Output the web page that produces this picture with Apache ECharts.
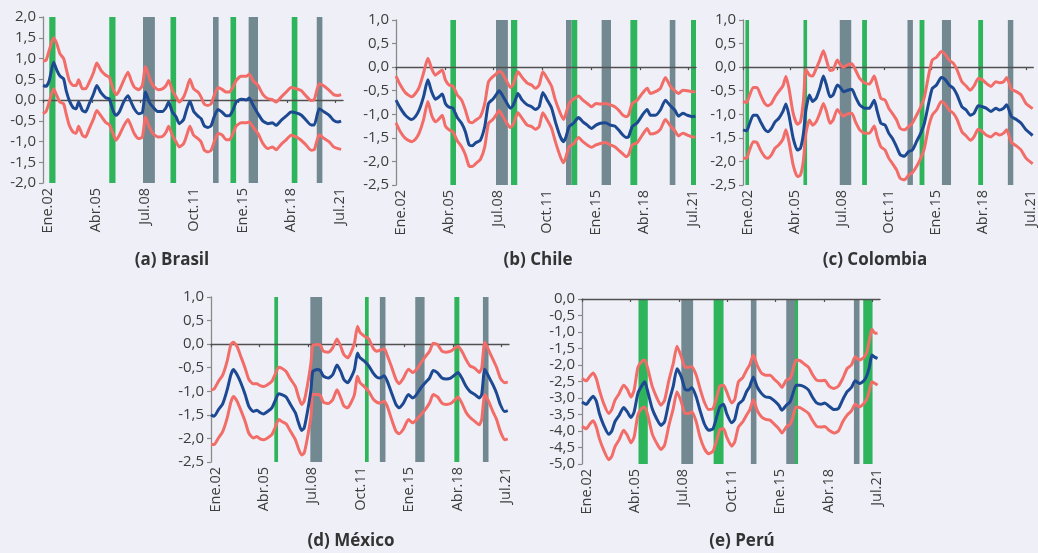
<!DOCTYPE html>
<html><head><meta charset="utf-8">
<script src="https://cdn.jsdelivr.net/npm/echarts@6/dist/echarts.min.js"></script>
<style>html,body{margin:0;padding:0;background:#efeff7;}#c{width:1038px;height:553px;}</style>
</head><body><div id="c"></div>
<script>
// x positions are month indices counted from Ene.02 (Jan 2002 = 0)
const tickMonths = [0, 39, 78, 117, 156, 195, 234];
const tickLabels = ['Ene.02', 'Abr.05', 'Jul.08', 'Oct.11', 'Ene.15', 'Abr.18', 'Jul.21'];
const titles = ['(a) Brasil', '(b) Chile', '(c) Colombia', '(d) México', '(e) Perú'];

// grey bands (common episodes) and green bands (elections), month index ranges
const crisisPeriods = [[80, 89.5], [136, 140.5], [164.5, 172], [219, 223.5]];
const brasilElections = [[5, 10], [53, 58], [102, 106.5], [150, 154.5], [199, 203.5]];
const chileElections = [[43.5, 48], [92, 97], [140.5, 145], [187.5, 193], [236, 240]];
const colombiaElections = [[2, 5], [50, 53], [98.5, 102.5], [146, 150], [194.5, 198.5]];
const mexicoElections = [[51, 54], [124, 127], [196, 200]];
const peruElections = [[45.5, 53], [106, 114], [171.5, 174], [226.5, 234]];

// Brasil
const brasilMonths = [0,2.5,5,8.5,11,13.5,16.5,18.5,21,24,26.5,28.5,31.5,34,37,40.5,43,46.5,50.5,53,56,58.5,61,64.5,68,70.5,73,76.5,79.5,82,85,88,92,95.5,98.5,100.5,103.5,106.5,109,112.5,115,117.5,120.5,124,126.5,129,132,134.5,137,140,143.5,146.5,149,152,154.5,158.5,162.5,165,168,172,176,180,183.5,186.5,190.5,194.5,198.5,202.5,206.5,210,214.5,217,221,225,229,232.5,236,238.5];
const brasilMid = [0.35,0.33,0.47,0.91,0.72,0.58,0.51,0.23,-0.01,-0.18,-0.21,-0.05,-0.25,-0.29,-0.09,0.15,0.35,0.17,0.05,0.03,-0.25,-0.37,-0.29,-0.05,0.10,-0.05,-0.21,-0.33,-0.30,0.19,-0.05,-0.17,-0.28,-0.28,-0.18,-0.05,-0.29,-0.41,-0.57,-0.47,-0.22,-0.03,-0.27,-0.39,-0.45,-0.62,-0.66,-0.62,-0.40,-0.23,-0.30,-0.38,-0.38,-0.24,-0.05,0.02,0.0,0.05,-0.12,-0.33,-0.51,-0.57,-0.55,-0.61,-0.49,-0.39,-0.29,-0.31,-0.36,-0.47,-0.60,-0.60,-0.21,-0.29,-0.37,-0.49,-0.53,-0.51];
const brasilUp = [0.94,0.96,1.20,1.50,1.36,1.12,1.0,0.76,0.47,0.35,0.35,0.49,0.27,0.27,0.43,0.67,0.89,0.71,0.59,0.55,0.27,0.13,0.23,0.47,0.67,0.47,0.31,0.25,0.35,0.81,0.55,0.35,0.25,0.27,0.35,0.47,0.23,0.07,-0.05,0.07,0.27,0.50,0.27,0.19,0.07,-0.10,-0.13,-0.09,0.11,0.30,0.25,0.19,0.19,0.31,0.47,0.57,0.57,0.62,0.47,0.35,0.13,0.03,0.01,-0.05,0.07,0.19,0.30,0.27,0.23,0.11,-0.01,0.01,0.39,0.33,0.23,0.13,0.11,0.13];
const brasilLow = [-0.33,-0.27,-0.05,0.27,0.11,-0.05,-0.09,-0.33,-0.61,-0.77,-0.80,-0.63,-0.85,-0.89,-0.69,-0.45,-0.25,-0.39,-0.55,-0.59,-0.81,-0.97,-0.85,-0.63,-0.47,-0.63,-0.81,-0.93,-0.89,-0.41,-0.65,-0.81,-0.89,-0.88,-0.77,-0.63,-0.85,-1.01,-1.13,-1.05,-0.85,-0.63,-0.85,-0.93,-1.01,-1.21,-1.25,-1.21,-1.01,-0.81,-0.85,-0.96,-0.96,-0.81,-0.63,-0.55,-0.55,-0.53,-0.65,-0.81,-1.05,-1.17,-1.13,-1.2,-1.07,-0.96,-0.85,-0.89,-0.97,-1.07,-1.21,-1.2,-0.84,-0.93,-1.01,-1.13,-1.17,-1.19];

// Chile
const chileMonths = [0,3.5,7.5,12.5,15.5,18.5,22,25.5,28.5,31.5,34,37,39.5,42.5,45.5,49,52.5,55.5,58.5,61,64,67.5,71,74,77.5,80,82.5,85,88,91.5,93.5,96,97.5,101,105,108.5,111.5,114.5,117.5,121,124.5,127.5,131.5,134,136,138.5,142,146,149.5,153,156.5,160,163.5,167.5,171.5,175,178,181.5,184,186,189,193,197,201,203.5,207.5,211.5,215.5,219.5,223,226,229.5,233,237,239.5];
const chileMid = [-0.70,-0.87,-1.02,-1.11,-1.05,-0.91,-0.63,-0.27,-0.52,-0.68,-0.64,-0.57,-0.77,-0.85,-0.87,-1.07,-1.19,-1.37,-1.65,-1.67,-1.60,-1.55,-1.26,-0.77,-0.68,-0.59,-0.50,-0.59,-0.73,-0.87,-0.82,-0.66,-0.56,-0.70,-0.80,-0.84,-0.90,-0.84,-0.54,-0.70,-0.87,-1.16,-1.48,-1.58,-1.48,-1.26,-1.19,-1.07,-1.16,-1.23,-1.30,-1.23,-1.19,-1.18,-1.23,-1.25,-1.33,-1.44,-1.49,-1.48,-1.26,-1.18,-1.02,-0.90,-1.02,-1.02,-0.91,-0.70,-0.82,-0.91,-1.04,-0.98,-1.02,-1.05,-1.04];
const chileUp = [-0.19,-0.38,-0.54,-0.63,-0.56,-0.43,-0.13,0.19,-0.03,-0.17,-0.12,-0.06,-0.27,-0.38,-0.40,-0.59,-0.70,-0.91,-1.16,-1.18,-1.12,-1.05,-0.77,-0.31,-0.20,-0.15,-0.08,-0.13,-0.27,-0.43,-0.38,-0.19,-0.10,-0.22,-0.34,-0.38,-0.45,-0.38,-0.10,-0.24,-0.41,-0.70,-0.98,-1.11,-0.98,-0.77,-0.68,-0.61,-0.70,-0.77,-0.84,-0.77,-0.78,-0.77,-0.80,-0.84,-0.91,-1.02,-1.05,-1.02,-0.77,-0.70,-0.56,-0.45,-0.56,-0.52,-0.45,-0.22,-0.41,-0.50,-0.56,-0.49,-0.50,-0.52,-0.52];
const chileLow = [-1.18,-1.37,-1.51,-1.58,-1.53,-1.40,-1.12,-0.73,-1.02,-1.16,-1.11,-1.02,-1.25,-1.33,-1.37,-1.56,-1.69,-1.86,-2.10,-2.11,-2.04,-1.96,-1.69,-1.19,-1.11,-1.02,-0.92,-1.02,-1.16,-1.28,-1.23,-1.05,-0.97,-1.09,-1.23,-1.26,-1.32,-1.26,-0.97,-1.12,-1.30,-1.58,-1.90,-2.03,-1.90,-1.69,-1.63,-1.49,-1.58,-1.65,-1.70,-1.65,-1.62,-1.60,-1.65,-1.69,-1.76,-1.84,-1.90,-1.86,-1.65,-1.60,-1.44,-1.30,-1.42,-1.40,-1.32,-1.11,-1.25,-1.35,-1.46,-1.40,-1.44,-1.48,-1.48];

// Colombia
const colombiaMonths = [0,3,5,8.5,11.5,14.5,18,20.5,23.5,26.5,29.5,33,35.5,38,41.5,45,47.5,50,52,55,57.5,60.5,63.5,66.5,69,72,74.5,78,80.5,83,86.5,90,93,96.5,100.5,104.5,108.5,111,114,117.5,120.5,123.5,127,130,133.5,137,140,143.5,147,150,153.5,156.5,160,164,167,170.5,174,177,181,184.5,188,191,194.5,198,201,205,209,212,215.5,218,222,226,230,234,239.5];
const colombiaMid = [-1.33,-1.35,-1.23,-1.02,-1.02,-1.16,-1.32,-1.37,-1.30,-1.16,-1.09,-0.94,-0.78,-1.02,-1.51,-1.76,-1.72,-1.40,-0.91,-0.59,-0.73,-0.66,-0.45,-0.19,-0.38,-0.63,-0.59,-0.38,-0.43,-0.52,-0.49,-0.47,-0.63,-0.80,-0.87,-0.87,-0.70,-0.94,-1.19,-1.23,-1.40,-1.51,-1.69,-1.86,-1.89,-1.79,-1.76,-1.58,-1.40,-1.19,-0.77,-0.45,-0.38,-0.22,-0.26,-0.38,-0.45,-0.59,-0.84,-0.91,-1.02,-0.98,-0.82,-0.84,-0.87,-0.94,-0.87,-0.91,-0.87,-0.80,-1.05,-1.11,-1.19,-1.33,-1.45];
const colombiaUp = [-0.73,-0.75,-0.63,-0.43,-0.43,-0.59,-0.77,-0.82,-0.77,-0.63,-0.52,-0.40,-0.20,-0.45,-0.98,-1.21,-1.16,-0.70,-0.05,-0.17,-0.19,-0.03,0.15,0.35,0.15,-0.07,-0.06,0.15,0.05,0.00,0.05,0.07,-0.06,-0.24,-0.33,-0.36,-0.19,-0.40,-0.66,-0.70,-0.87,-0.98,-1.12,-1.30,-1.33,-1.26,-1.19,-1.02,-0.84,-0.63,-0.17,0.15,0.21,0.33,0.28,0.15,0.08,-0.06,-0.31,-0.40,-0.49,-0.40,-0.24,-0.27,-0.34,-0.41,-0.31,-0.33,-0.31,-0.22,-0.47,-0.52,-0.59,-0.77,-0.88];
const colombiaLow = [-1.93,-1.93,-1.79,-1.58,-1.60,-1.76,-1.90,-1.93,-1.86,-1.72,-1.65,-1.53,-1.33,-1.58,-2.08,-2.32,-2.29,-1.97,-1.40,-1.12,-1.23,-1.16,-0.98,-0.77,-0.94,-1.19,-1.12,-0.90,-0.98,-1.04,-0.99,-0.98,-1.16,-1.33,-1.40,-1.40,-1.25,-1.48,-1.69,-1.76,-1.93,-2.04,-2.18,-2.36,-2.39,-2.29,-2.24,-2.11,-1.93,-1.72,-1.26,-1.02,-0.91,-0.73,-0.78,-0.91,-0.98,-1.11,-1.37,-1.46,-1.55,-1.48,-1.32,-1.37,-1.44,-1.48,-1.40,-1.44,-1.40,-1.33,-1.60,-1.67,-1.76,-1.93,-2.05];

// México
const mexicoMonths = [0,2.5,6,9.5,13,16,18,21,24,27.5,30.5,34,37,39.5,42.5,45.5,49,51.5,54.5,57,60.5,64,68,70.5,73,75,77.5,80.5,82,85.5,88,90.5,94.5,98,101.5,104.5,107,110,112,115.5,118,120,123.5,127,130.5,133.5,136,139.5,142,145.5,149,151.5,155,159,162.5,165.5,169,172.5,176,179,182.5,186,189.5,193,196.5,199,202,205.5,208.5,212.5,216,218,220.5,223.5,227,230,233,236.5,239];
const mexicoMid = [-1.50,-1.53,-1.39,-1.26,-0.97,-0.65,-0.54,-0.65,-0.82,-1.07,-1.32,-1.43,-1.40,-1.45,-1.48,-1.43,-1.35,-1.21,-1.05,-1.07,-1.12,-1.28,-1.46,-1.67,-1.83,-1.78,-1.46,-0.97,-0.58,-0.54,-0.56,-0.68,-0.72,-0.65,-0.44,-0.58,-0.75,-0.82,-0.75,-0.54,-0.19,-0.29,-0.36,-0.46,-0.61,-0.70,-0.72,-0.67,-0.79,-1.04,-1.28,-1.35,-1.25,-1.07,-1.14,-1.07,-0.93,-0.82,-0.72,-0.56,-0.61,-0.72,-0.74,-0.72,-0.65,-0.60,-0.72,-0.90,-1.00,-1.07,-1.14,-1.07,-0.53,-0.68,-0.86,-1.04,-1.28,-1.43,-1.41];
const mexicoUp = [-0.97,-0.95,-0.79,-0.65,-0.36,-0.01,0.04,-0.05,-0.26,-0.51,-0.75,-0.84,-0.84,-0.88,-0.90,-0.86,-0.79,-0.65,-0.49,-0.51,-0.58,-0.74,-0.90,-1.12,-1.28,-1.21,-0.90,-0.40,-0.03,-0.01,-0.02,-0.15,-0.17,-0.08,0.11,-0.05,-0.22,-0.29,-0.22,0.02,0.38,0.25,0.17,0.11,-0.08,-0.15,-0.13,-0.10,-0.24,-0.49,-0.75,-0.84,-0.72,-0.53,-0.60,-0.54,-0.40,-0.27,-0.15,0.02,-0.01,-0.15,-0.17,-0.15,-0.08,-0.05,-0.15,-0.33,-0.46,-0.51,-0.60,-0.51,0.04,-0.12,-0.32,-0.49,-0.72,-0.82,-0.80];
const mexicoLow = [-2.13,-2.13,-1.99,-1.85,-1.57,-1.23,-1.11,-1.21,-1.40,-1.64,-1.89,-1.99,-1.96,-2.01,-2.03,-1.99,-1.92,-1.78,-1.60,-1.64,-1.69,-1.85,-2.03,-2.22,-2.35,-2.31,-2.01,-1.53,-1.07,-1.07,-1.09,-1.23,-1.26,-1.18,-0.97,-1.14,-1.31,-1.35,-1.28,-1.07,-0.68,-0.82,-0.90,-1.00,-1.16,-1.23,-1.25,-1.21,-1.32,-1.60,-1.85,-1.90,-1.80,-1.60,-1.67,-1.60,-1.50,-1.39,-1.25,-1.07,-1.12,-1.25,-1.28,-1.26,-1.18,-1.12,-1.25,-1.45,-1.55,-1.64,-1.71,-1.60,-1.07,-1.21,-1.43,-1.60,-1.85,-2.03,-2.01];

// Perú
const peruMonths = [0,3.5,6,9,11.5,14,17.5,21.5,24,26.5,30,33.5,36.5,39.5,42,45,48,50.5,53,56.5,60,63.5,66.5,70,73.5,76.5,80,83,86,88.5,92,95,98.5,102,105.5,108.5,111,114,116.5,120.5,123,126,129.5,132.5,135,138,141,144.5,148,151.5,155,158.5,161,164.5,167.5,169.5,172.5,175.5,179,182.5,185.5,189,192.5,195.5,199,203,206.5,210,213.5,217,220,223.5,227,229.5,231.5,233.5,236,238];
const peruMid = [-3.12,-3.19,-3.07,-2.95,-3.09,-3.47,-3.83,-4.10,-4.00,-3.72,-3.52,-3.29,-3.42,-3.59,-3.42,-2.86,-2.64,-2.51,-2.81,-3.32,-3.62,-3.83,-3.72,-3.12,-2.64,-2.11,-2.36,-2.74,-2.76,-2.68,-2.97,-3.37,-3.78,-3.98,-3.93,-3.57,-3.27,-3.19,-3.47,-3.75,-3.65,-3.19,-3.07,-2.81,-2.66,-2.36,-2.66,-2.86,-2.97,-2.99,-3.09,-3.22,-3.37,-3.22,-3.12,-2.91,-2.61,-2.61,-2.66,-2.76,-2.97,-3.15,-3.19,-3.15,-3.25,-3.35,-3.32,-3.05,-2.81,-2.68,-2.48,-2.56,-2.48,-2.31,-2.05,-1.70,-1.77,-1.80];
const peruUp = [-2.41,-2.48,-2.36,-2.24,-2.41,-2.76,-3.17,-3.47,-3.35,-3.07,-2.86,-2.61,-2.74,-2.97,-2.76,-2.07,-1.90,-1.85,-2.11,-2.64,-2.97,-3.22,-3.07,-2.46,-1.95,-1.43,-1.75,-2.07,-2.07,-2.05,-2.31,-2.71,-3.12,-3.35,-3.32,-2.97,-2.64,-2.61,-2.81,-3.15,-3.05,-2.51,-2.38,-2.16,-2.00,-1.70,-2.00,-2.24,-2.31,-2.31,-2.44,-2.56,-2.68,-2.46,-2.41,-2.21,-1.85,-1.87,-1.97,-2.07,-2.28,-2.46,-2.48,-2.46,-2.64,-2.71,-2.64,-2.41,-2.11,-2.00,-1.75,-1.85,-1.77,-1.60,-1.24,-0.92,-1.04,-1.04];
const peruLow = [-3.86,-3.93,-3.80,-3.69,-3.88,-4.23,-4.58,-4.87,-4.77,-4.48,-4.26,-3.98,-4.13,-4.36,-4.18,-3.52,-3.32,-3.27,-3.52,-4.08,-4.36,-4.56,-4.43,-3.83,-3.32,-2.81,-3.12,-3.47,-3.47,-3.42,-3.72,-4.18,-4.53,-4.69,-4.61,-4.28,-3.96,-3.93,-4.18,-4.46,-4.33,-3.88,-3.72,-3.52,-3.37,-3.05,-3.37,-3.57,-3.65,-3.67,-3.80,-3.93,-4.06,-3.88,-3.80,-3.62,-3.27,-3.29,-3.37,-3.47,-3.67,-3.86,-3.88,-3.86,-3.98,-4.06,-4.00,-3.72,-3.52,-3.39,-3.19,-3.27,-3.17,-3.02,-2.76,-2.51,-2.56,-2.61];

const yRanges = [[-2, 2], [-2.5, 1], [-2.5, 1], [-2.5, 1], [-5, 0]];

// layout (positions kept apart from data)
const gridBoxes = [
  {left: 43, top: 17, width: 300, height: 166},
  {left: 396, top: 20, width: 300, height: 165},
  {left: 743, top: 20, width: 301, height: 165},
  {left: 211, top: 297, width: 298, height: 165},
  {left: 582, top: 299, width: 298, height: 165}
];
const titlePos = [[172, 260], [538, 260], [875, 260], [351, 541], [742, 541]];

const COLORS = {green: '#2eb55c', grey: '#738992', band: '#f26c68', mid: '#1c4991', axis: '#8a8a8a', zero: '#505050', text: '#3d3d3d'};
const FONT = 'Open Sans';

const panels = [
  {months: brasilMonths, mid: brasilMid, up: brasilUp, low: brasilLow, elec: brasilElections},
  {months: chileMonths, mid: chileMid, up: chileUp, low: chileLow, elec: chileElections},
  {months: colombiaMonths, mid: colombiaMid, up: colombiaUp, low: colombiaLow, elec: colombiaElections},
  {months: mexicoMonths, mid: mexicoMid, up: mexicoUp, low: mexicoLow, elec: mexicoElections},
  {months: peruMonths, mid: peruMid, up: peruUp, low: peruLow, elec: peruElections}
];

const grids = [], xAxes = [], yAxes = [], series = [], graphics = [];
const fmtX = v => { const k = tickMonths.indexOf(v); return k >= 0 ? tickLabels[k] : ''; };
const fmtY = v => v.toFixed(1).replace('.', ',');

panels.forEach((p, i) => {
  grids.push(Object.assign({containLabel: false}, gridBoxes[i]));
  xAxes.push({
    type: 'value', gridIndex: i, min: 0, max: 240, position: 'bottom',
    axisLine: {show: false, onZero: false}, axisTick: {show: false}, splitLine: {show: false},
    axisLabel: {customValues: tickMonths, formatter: fmtX, rotate: 90, margin: 5,
      verticalAlign: 'top', lineHeight: 9,
      color: COLORS.text, fontFamily: FONT, fontSize: 14.5}
  });
  xAxes.push({
    type: 'value', gridIndex: i, min: 0, max: 240, position: 'bottom', z: 3,
    axisLine: {show: true, onZero: true, lineStyle: {color: COLORS.zero, width: 1.4}},
    axisTick: {show: true, customValues: tickMonths, length: 3, lineStyle: {color: COLORS.zero, width: 1.2}},
    axisLabel: {show: false}, splitLine: {show: false}
  });
  yAxes.push({
    type: 'value', gridIndex: i, min: yRanges[i][0], max: yRanges[i][1], interval: 0.5,
    axisLine: {show: true, onZero: false, lineStyle: {color: COLORS.axis, width: 1.3}},
    axisTick: {show: true, length: 4, lineStyle: {color: COLORS.axis, width: 1.2}},
    splitLine: {show: false},
    axisLabel: {formatter: fmtY, margin: 7, color: COLORS.text, fontFamily: FONT, fontSize: 15}
  });
  const areas = [];
  crisisPeriods.forEach(r => areas.push([{xAxis: r[0], itemStyle: {color: COLORS.grey}}, {xAxis: r[1]}]));
  p.elec.forEach(r => areas.push([{xAxis: r[0], itemStyle: {color: COLORS.green}}, {xAxis: r[1]}]));
  const mk = arr => p.months.map((m, k) => [m, arr[k]]);
  const lineBase = {type: 'line', xAxisIndex: 2 * i, yAxisIndex: i, showSymbol: false, symbol: 'none',
    silent: true, animation: false, z: 5, smooth: 0.2};
  series.push(Object.assign({}, lineBase, {data: mk(p.up), lineStyle: {color: COLORS.band, width: 3},
    markArea: {silent: true, z: 1, itemStyle: {opacity: 1}, data: areas}}));
  series.push(Object.assign({}, lineBase, {data: mk(p.low), lineStyle: {color: COLORS.band, width: 3}}));
  series.push(Object.assign({}, lineBase, {data: mk(p.mid), lineStyle: {color: COLORS.mid, width: 3}}));
  graphics.push({type: 'text', x: titlePos[i][0], y: titlePos[i][1],
    style: {text: titles[i], fill: '#333333', font: 'bold 17px "Open Sans"', textAlign: 'center', textVerticalAlign: 'middle'}});
});

const chart = echarts.init(document.getElementById('c'), null, {renderer: 'canvas'});
chart.setOption({
  backgroundColor: '#efeff7', animation: false,
  grid: grids, xAxis: xAxes, yAxis: yAxes, series: series, graphic: graphics
});
</script></body></html>
